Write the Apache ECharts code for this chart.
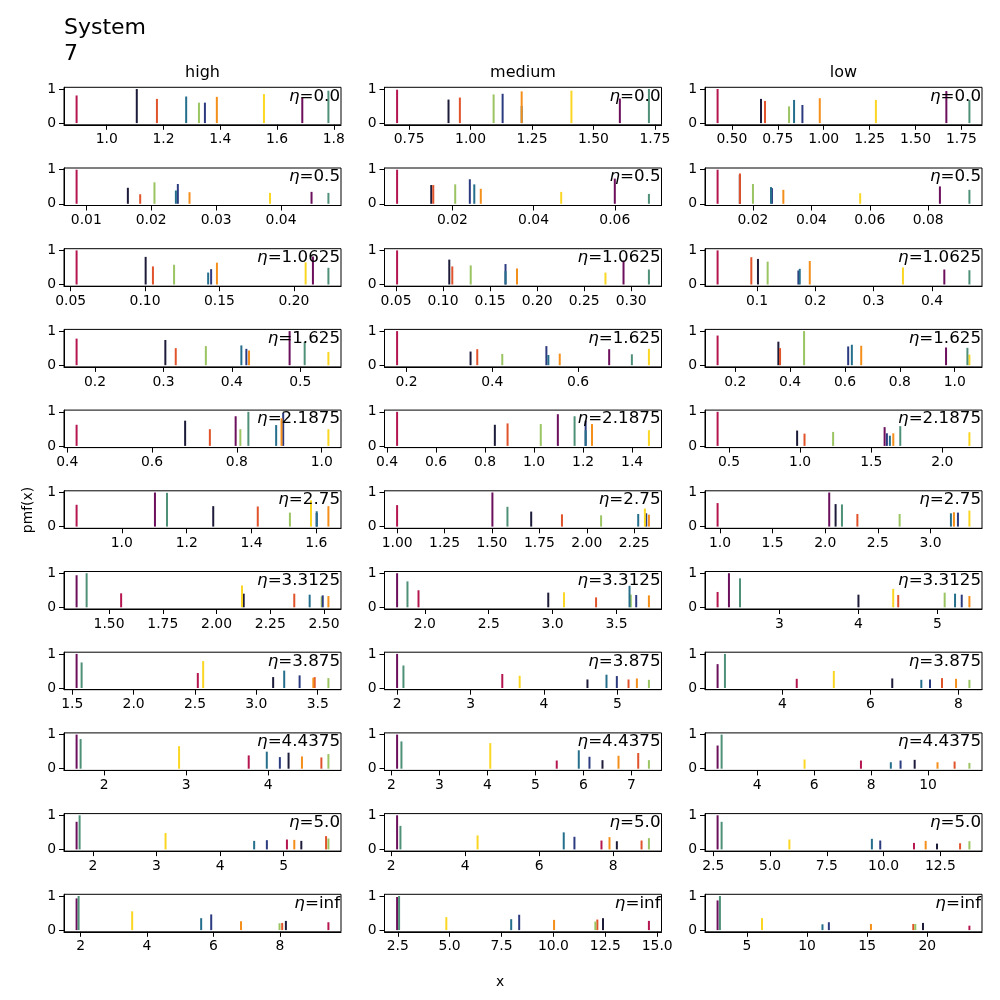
<!DOCTYPE html>
<html>
<head>
<meta charset="utf-8">
<script src="https://cdn.jsdelivr.net/npm/echarts@6/dist/echarts.min.js"></script>
<style>
html, body { margin: 0; padding: 0; background: #fff; }
#chart { width: 1000px; height: 1000px; }
</style>
</head>
<body>
<div id="chart"></div>
<script>
const columns = ['high', 'medium', 'low'];
const etas = ['0.0', '0.5', '1.0625', '1.625', '2.1875', '2.75', '3.3125', '3.875', '4.4375', '5.0', 'inf'];
// one colour per stem, same order in every row below
const colors = ['#b5164f', '#1c1b3a', '#e0532b', '#9bc462', '#2c3b80', '#256f8c', '#f58f1b', '#fbd723', '#6c0f5c', '#4f9178'];

// x positions (one row per eta, one entry per colour)
const highX = [
    [0.894, 1.106, 1.177, 1.325, 1.346, 1.280, 1.388, 1.554, 1.689, 1.781],
    [0.0085, 0.0164, 0.0183, 0.0205, 0.0241, 0.0238, 0.0259, 0.0383, 0.0447, 0.0473],
    [0.054, 0.1004, 0.1053, 0.1195, 0.1444, 0.1424, 0.1483, 0.2079, 0.2128, 0.2232],
    [0.1731, 0.3028, 0.318, 0.362, 0.4212, 0.4139, 0.4251, 0.5411, 0.4844, 0.5064],
    [0.4221, 0.678, 0.7363, 0.8082, 0.9092, 0.8926, 0.9053, 1.0158, 0.7971, 0.8271],
    [0.8606, 1.2819, 1.4192, 1.5183, 1.6009, 1.6009, 1.637, 1.5834, 1.1022, 1.1394],
    [1.5561, 2.1262, 2.3614, 2.4891, 2.4938, 2.433, 2.5202, 2.1184, 1.3489, 1.3956],
    [2.5232, 3.1371, 3.4754, 3.5873, 3.3526, 3.2271, 3.4645, 2.5668, 1.5355, 1.5764],
    [3.7633, 4.249, 4.649, 4.7347, 4.1429, 3.9837, 4.4122, 2.9143, 1.6653, 1.7143],
    [5.0526, 5.2789, 5.6684, 5.7053, 4.7368, 4.5368, 5.1684, 3.1421, 1.7421, 1.7895],
    [9.4632, 8.1825, 8.0716, 7.9909, 5.9334, 5.6308, 6.831, 3.553, 1.879, 1.9395]
];
const highP = [
    [0.81, 1.0, 0.71, 0.60, 0.60, 0.78, 0.77, 0.85, 0.74, 0.95],
    [1.0, 0.47, 0.28, 0.63, 0.58, 0.39, 0.34, 0.32, 0.35, 0.32],
    [1.0, 0.81, 0.53, 0.58, 0.45, 0.35, 0.64, 0.65, 0.82, 0.49],
    [0.78, 0.74, 0.50, 0.56, 0.48, 0.58, 0.43, 0.39, 1.0, 0.68],
    [0.62, 0.74, 0.49, 0.49, 0.97, 0.61, 0.81, 0.49, 0.87, 1.0],
    [0.64, 0.60, 0.59, 0.41, 0.40, 0.45, 0.60, 0.77, 1.0, 0.99],
    [0.41, 0.40, 0.40, 0.32, 0.35, 0.37, 0.33, 0.64, 0.94, 1.0],
    [0.44, 0.32, 0.32, 0.29, 0.37, 0.51, 0.30, 0.79, 1.0, 0.75],
    [0.39, 0.47, 0.33, 0.43, 0.34, 0.50, 0.36, 0.66, 1.0, 0.87],
    [0.29, 0.25, 0.39, 0.32, 0.27, 0.25, 0.28, 0.48, 0.81, 1.0],
    [0.23, 0.27, 0.21, 0.20, 0.46, 0.35, 0.26, 0.55, 0.93, 1.0]
];
const mediumX = [
    [0.7011, 0.9103, 0.9565, 1.0938, 1.1304, 1.2079, 1.2079, 1.4103, 1.6073, 1.7255],
    [0.00639, 0.0148, 0.0153, 0.0207, 0.0243, 0.0254, 0.027, 0.0468, 0.06, 0.0684],
    [0.0511, 0.1066, 0.1098, 0.1294, 0.1664, 0.1664, 0.1786, 0.2727, 0.2919, 0.3189],
    [0.1782, 0.3494, 0.365, 0.4233, 0.5261, 0.5307, 0.5572, 0.765, 0.6724, 0.7253],
    [0.441, 0.8399, 0.8918, 1.0273, 1.2104, 1.2104, 1.2363, 1.4686, 1.097, 1.1653],
    [1.0, 1.707, 1.8692, 2.0755, 2.3135, 2.2712, 2.3276, 2.3064, 1.5025, 1.5818],
    [1.9503, 2.966, 3.3403, 3.612, 3.6545, 3.6021, 3.7539, 3.089, 1.7827, 1.8639],
    [3.4318, 4.5909, 5.15, 5.4273, 4.9909, 4.85, 5.2636, 3.6682, 2.0, 2.0864],
    [5.4423, 6.395, 7.1391, 7.3616, 6.1238, 5.9013, 6.7288, 4.0584, 2.1182, 2.2086],
    [7.6834, 8.0984, 8.766, 8.9645, 6.9527, 6.664, 7.9, 4.3366, 2.1624, 2.2526],
    [14.6, 12.388, 12.115, 12.02, 8.35, 7.965, 10.03, 4.84, 2.468, 2.564]
];
const mediumP = [
    [0.98, 0.69, 0.75, 0.84, 0.86, 0.50, 0.93, 0.95, 0.72, 1.0],
    [1.0, 0.55, 0.55, 0.57, 0.72, 0.57, 0.44, 0.35, 0.74, 0.29],
    [1.0, 0.73, 0.53, 0.56, 0.60, 0.39, 0.47, 0.35, 0.70, 0.44],
    [1.0, 0.40, 0.47, 0.33, 0.56, 0.30, 0.34, 0.48, 0.47, 0.32],
    [1.0, 0.62, 0.66, 0.64, 0.74, 0.46, 0.64, 0.46, 0.93, 0.87],
    [0.63, 0.44, 0.36, 0.33, 0.39, 0.37, 0.35, 0.53, 1.0, 0.58],
    [0.50, 0.43, 0.29, 0.37, 0.36, 0.63, 0.35, 0.44, 1.0, 0.76],
    [0.41, 0.25, 0.25, 0.24, 0.35, 0.39, 0.28, 0.36, 1.0, 0.66],
    [0.24, 0.25, 0.46, 0.25, 0.35, 0.54, 0.38, 0.75, 1.0, 0.80],
    [0.26, 0.24, 0.26, 0.33, 0.37, 0.50, 0.36, 0.41, 1.0, 0.69],
    [0.27, 0.35, 0.31, 0.25, 0.45, 0.32, 0.30, 0.38, 0.97, 1.0]
];
const lowX = [
    [0.4218, 0.6583, 0.6801, 0.8111, 0.8839, 0.8384, 0.9785, 1.2842, 1.6681, 1.7937],
    [0.00789, 0.0155, 0.01554, 0.02, 0.0265, 0.02617, 0.0304, 0.0567, 0.084, 0.0941],
    [0.0325, 0.1017, 0.0903, 0.1183, 0.171, 0.1733, 0.1905, 0.3502, 0.4211, 0.4641],
    [0.1355, 0.3571, 0.3632, 0.4508, 0.6116, 0.625, 0.6591, 1.0536, 0.9684, 1.0463],
    [0.420, 0.979, 1.031, 1.232, 1.610, 1.631, 1.655, 2.190, 1.594, 1.704],
    [0.9777, 2.0987, 2.3057, 2.707, 3.2611, 3.1943, 3.223, 3.37, 2.0382, 2.1592],
    [2.2178, 4.0, 4.5032, 5.0909, 5.3066, 5.222, 5.4038, 4.4397, 2.3615, 2.5011],
    [4.3264, 6.4972, 7.628, 8.2505, 7.3548, 7.1575, 7.9469, 5.1689, 2.5275, 2.6945],
    [7.642, 9.528, 10.93, 11.45, 9.033, 8.691, 10.33, 5.662, 2.609, 2.7505],
    [11.338, 12.353, 13.368, 13.779, 9.853, 9.485, 11.853, 5.853, 2.691, 2.868],
    [23.5, 19.64, 18.83, 19.0, 11.81, 11.28, 15.31, 6.25, 2.556, 2.75]
];
const lowP = [
    [1.0, 0.71, 0.65, 0.49, 0.53, 0.68, 0.73, 0.68, 0.94, 0.68],
    [1.0, 0.85, 0.89, 0.58, 0.46, 0.49, 0.41, 0.31, 0.51, 0.41],
    [1.0, 0.75, 0.80, 0.67, 0.41, 0.46, 0.69, 0.50, 0.44, 0.42],
    [0.87, 0.69, 0.50, 1.0, 0.55, 0.60, 0.57, 0.31, 0.52, 0.51],
    [1.0, 0.45, 0.36, 0.41, 0.37, 0.30, 0.37, 0.40, 0.55, 0.58],
    [0.69, 0.66, 0.37, 0.37, 0.41, 0.39, 0.42, 0.47, 1.0, 0.65],
    [0.45, 0.37, 0.36, 0.43, 0.37, 0.40, 0.33, 0.54, 1.0, 0.85],
    [0.27, 0.28, 0.29, 0.24, 0.25, 0.24, 0.27, 0.50, 0.70, 1.0],
    [0.24, 0.26, 0.21, 0.17, 0.24, 0.19, 0.19, 0.27, 0.68, 1.0],
    [0.19, 0.17, 0.18, 0.24, 0.26, 0.31, 0.25, 0.29, 1.0, 0.81],
    [0.13, 0.21, 0.18, 0.18, 0.23, 0.17, 0.18, 0.35, 0.87, 1.0]
];
// x tick spacing per row
const highStep = [0.2, 0.01, 0.05, 0.1, 0.2, 0.2, 0.25, 0.5, 1, 1, 2];
const mediumStep = [0.25, 0.02, 0.05, 0.2, 0.2, 0.25, 0.5, 1, 1, 2, 2.5];
const lowStep = [0.25, 0.02, 0.1, 0.2, 0.5, 0.5, 1, 2, 2, 2.5, 5];

const FONT = 'DejaVu Sans';
const colLeft = [64, 384.5, 705];
const plotW = 277;
const rowTop0 = 87.3;
const rowGap = 80.7;
const plotH = 37.5;

const decimalsOf = (s) => {
    const str = String(s);
    return str.indexOf('.') < 0 ? 0 : str.length - str.indexOf('.') - 1;
};

const grids = [], xAxes = [], yAxes = [], series = [], graphics = [];
const tables = [[highX, highP, highStep], [mediumX, mediumP, mediumStep], [lowX, lowP, lowStep]];

tables.forEach(([xs, ps, steps], c) => {
    xs.forEach((row, r) => {
        const k = grids.length;
        const lo = Math.min(...row), hi = Math.max(...row);
        const pad = (hi - lo) * 0.05;
        const min = lo - pad, max = hi + pad;
        const step = steps[r];
        const dec = decimalsOf(step);
        const ticks = [];
        for (let i = Math.ceil(min / step - 1e-9); i <= Math.floor(max / step + 1e-9); i++) {
            ticks.push(+(i * step).toFixed(6));
        }
        const left = colLeft[c];
        const top = rowTop0 + rowGap * r;

        grids.push({
            left: left, top: top, width: plotW, height: plotH,
            show: true, borderColor: '#000', borderWidth: 1,
            containLabel: false, outerBoundsMode: 'none'
        });
        xAxes.push({
            gridIndex: k, type: 'value', min: min, max: max,
            splitLine: { show: false },
            axisLine: { show: true, onZero: false, lineStyle: { color: '#000', width: 1 } },
            axisTick: { show: true, customValues: ticks, length: 5, lineStyle: { color: '#000', width: 1 } },
            axisLabel: {
                customValues: ticks, formatter: (v) => v.toFixed(dec),
                color: '#000', fontSize: 13.9, fontFamily: FONT, margin: 8
            }
        });
        yAxes.push({
            gridIndex: k, type: 'value', min: -0.05, max: 1.05,
            splitLine: { show: false },
            axisLine: { show: true, onZero: false, lineStyle: { color: '#000', width: 1 } },
            axisTick: { show: true, customValues: [0, 1], length: 5, lineStyle: { color: '#000', width: 1 } },
            axisLabel: {
                customValues: [0, 1], formatter: (v) => String(Math.round(v)),
                color: '#000', fontSize: 13.9, fontFamily: FONT, margin: 8
            }
        });
        series.push({
            type: 'bar', xAxisIndex: k, yAxisIndex: k, barWidth: 2,
            silent: true, animation: false,
            data: row.map((x, i) => ({ value: [x, ps[r][i]], itemStyle: { color: colors[i] } }))
        });
        graphics.push({
            type: 'text', x: left + plotW - 1, y: top + 9, z: 100,
            style: {
                text: '{i|η}=' + etas[r],
                align: 'right', verticalAlign: 'middle',
                fontSize: 16.7, fontFamily: FONT, fill: '#000',
                rich: { i: { fontStyle: 'italic', fontSize: 16.7, fontFamily: FONT } }
            }
        });
    });
    graphics.push({
        type: 'text', x: colLeft[c] + plotW / 2, y: 73,
        style: { text: columns[c], align: 'center', verticalAlign: 'middle', fontSize: 16, fontFamily: FONT, fill: '#000' }
    });
});

graphics.push({
    type: 'text', x: 64, y: 15,
    style: { text: 'System\n7', align: 'left', verticalAlign: 'top', fontSize: 22, lineHeight: 26, fontFamily: FONT, fill: '#000' }
});
graphics.push({
    type: 'text', x: 28, y: 510, rotation: Math.PI / 2,
    style: { text: 'pmf(x)', align: 'center', verticalAlign: 'middle', fontSize: 13.9, fontFamily: FONT, fill: '#000' }
});
graphics.push({
    type: 'text', x: 500, y: 982,
    style: { text: 'x', align: 'center', verticalAlign: 'middle', fontSize: 13.9, fontFamily: FONT, fill: '#000' }
});

const myChart = echarts.init(document.getElementById('chart'), null, { renderer: 'canvas' });
myChart.setOption({
    animation: false,
    backgroundColor: '#fff',
    grid: grids,
    xAxis: xAxes,
    yAxis: yAxes,
    series: series,
    graphic: graphics
});
</script>
</body>
</html>
